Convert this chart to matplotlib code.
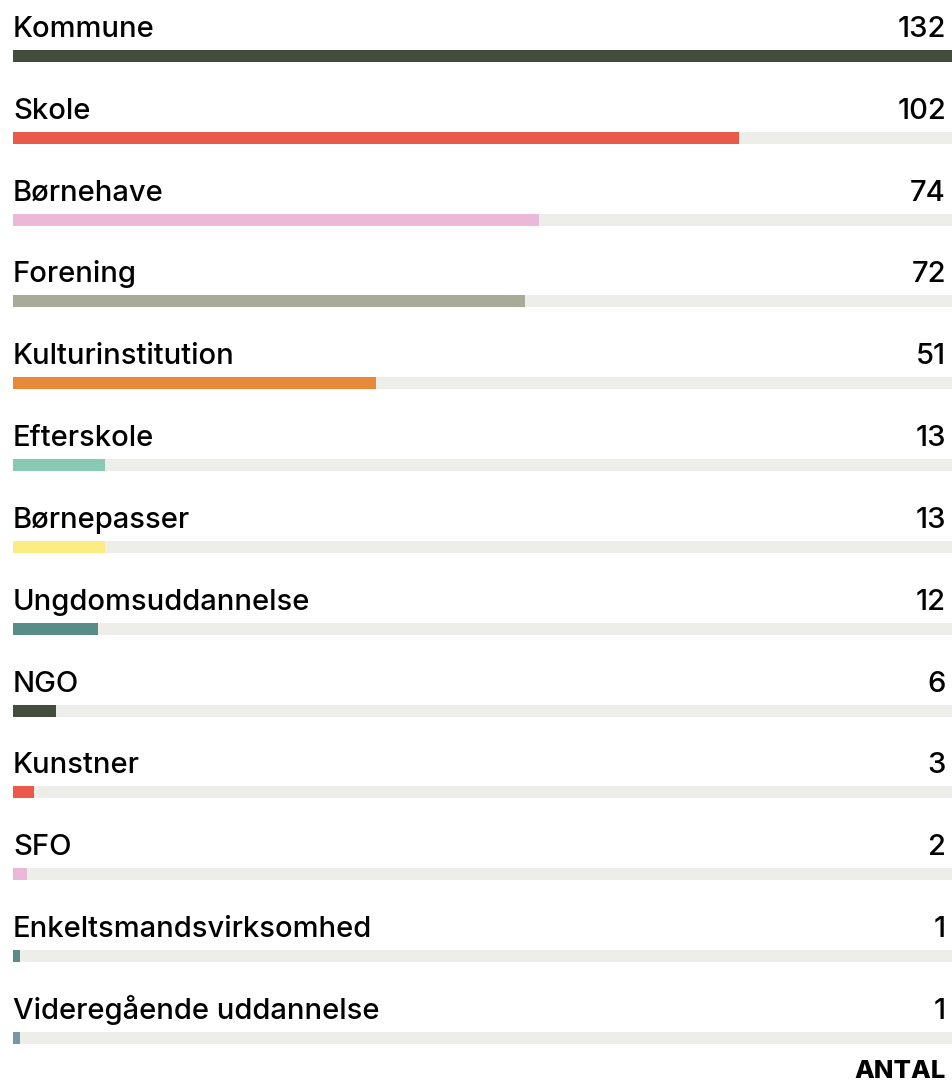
import matplotlib.pyplot as plt

categories = ["Kommune", "Skole", "Børnehave", "Forening", "Kulturinstitution",
              "Efterskole", "Børnepasser", "Ungdomsuddannelse", "NGO", "Kunstner",
              "SFO", "Enkeltsmandsvirksomhed", "Videregående uddannelse"]
values = [132, 102, 74, 72, 51, 13, 13, 12, 6, 3, 2, 1, 1]
colors = ["#424d3a", "#e95a4a", "#ecb8d8", "#a8ab98", "#e8893a", "#88c9b4",
          "#fcec82", "#578d86", "#424d3a", "#e95a4a", "#ecb8d8", "#578d86", "#7896a8"]
max_val = 132

plt.rcParams['font.family'] = ['Inter', 'DejaVu Sans']

fig = plt.figure(figsize=(9.53, 10.82), dpi=100)
# axes spans the bar track horizontally, whole figure vertically
ax = fig.add_axes([13 / 953, 0, 939 / 953, 1])
ax.set_xlim(0, max_val)
row = 81.83  # pixels between rows
ax.set_ylim((1082 - 56) / row, -56 / row)
ax.axis('off')

h = 12 / row
ys = list(range(len(categories)))
ax.barh(ys, [max_val] * len(ys), height=h, color="#ededea", left=0)
ax.barh(ys, values, height=h, color=colors, left=0)

for y, cat, v in zip(ys, categories, values):
    ax.text(0, y - 19 / row, cat, ha='left', va='baseline', fontsize=21,
            fontweight='medium', color='black')
    ax.text(max_val - 0.85, y - 19 / row, str(v), ha='right', va='baseline', fontsize=21,
            fontweight='medium', color='black')

ax.text(max_val - 0.85, len(ys) - 1 + 40 / row, "ANTAL", ha='right', va='baseline',
        fontsize=18.5, fontweight='heavy', color='black')

fig.savefig("out.png", dpi=100)
